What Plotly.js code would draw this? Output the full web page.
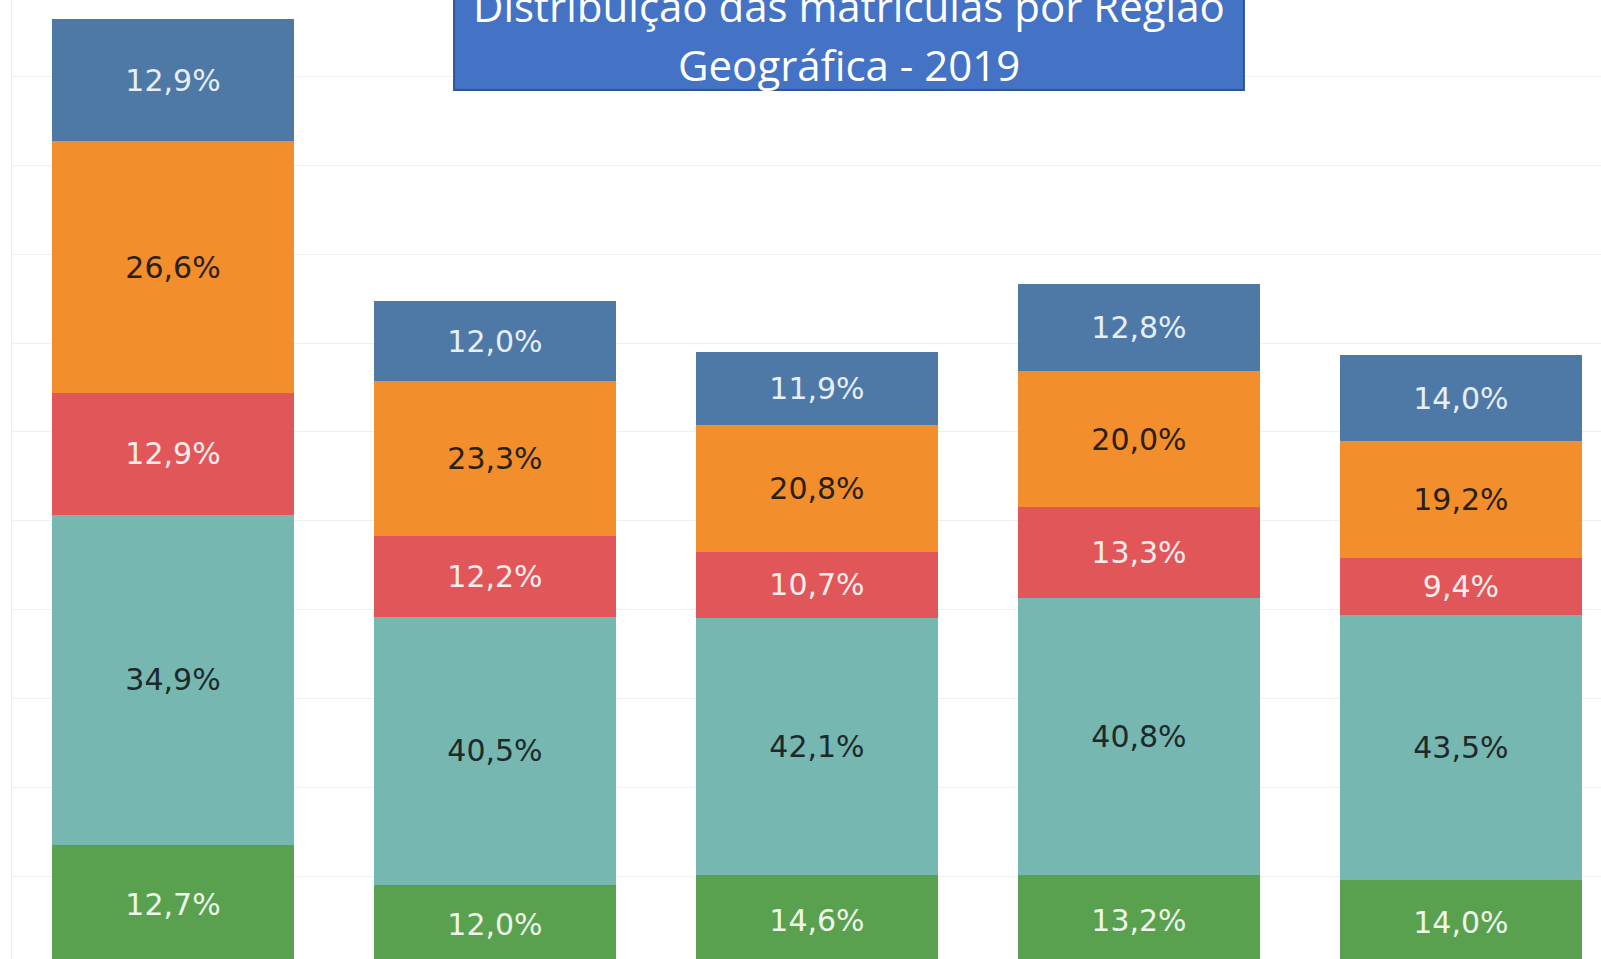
<!DOCTYPE html>
<html>
<head>
<meta charset="utf-8">
<script src="https://cdn.plot.ly/plotly-3.0.1.min.js"></script>
<style>
  html, body { margin: 0; padding: 0; background: #ffffff; overflow: hidden; }
  #chart { width: 1601px; height: 959px; }
</style>
</head>
<body>
<div id="chart"></div>
<script>
// Categories (column labels are cut off in the reference)
const categories = ['Coluna 1', 'Coluna 2', 'Coluna 3', 'Coluna 4', 'Coluna 5'];

// Series values (stacked bottom to top), in gridline units
const sulValues         = [1.35, 0.90, 1.01, 1.01, 0.96];
const sudesteValues     = [3.72, 3.02, 2.90, 3.12, 2.98];
const norteValues       = [1.37, 0.91, 0.74, 1.02, 0.64];
const nordesteValues    = [2.83, 1.74, 1.43, 1.53, 1.32];
const centroOesteValues = [1.38, 0.90, 0.82, 0.98, 0.96];

// Segment labels (share of each column)
const sulLabels         = ['12,7%', '12,0%', '14,6%', '13,2%', '14,0%'];
const sudesteLabels     = ['34,9%', '40,5%', '42,1%', '40,8%', '43,5%'];
const norteLabels       = ['12,9%', '12,2%', '10,7%', '13,3%', '9,4%'];
const nordesteLabels    = ['26,6%', '23,3%', '20,8%', '20,0%', '19,2%'];
const centroOesteLabels = ['12,9%', '12,0%', '11,9%', '12,8%', '14,0%'];

const titleLine1 = 'Distribuição das matrículas por Região';
const titleLine2 = 'Geográfica - 2019';

const labelFont = 'DejaVu Sans, sans-serif';
const labelSize = 30;

function seg(name, values, labels, color, textColor) {
  return {
    type: 'bar',
    name: name,
    x: categories,
    y: values,
    text: labels,
    textposition: 'inside',
    insidetextanchor: 'middle',
    textangle: 0,
    constraintext: 'none',
    insidetextfont: { family: labelFont, size: labelSize, color: textColor },
    marker: { color: color, line: { width: 0 } },
    hoverinfo: 'skip'
  };
}

const data = [
  seg('Sul', sulValues, sulLabels, '#59a14f', '#eef5ea'),
  seg('Sudeste', sudesteValues, sudesteLabels, '#76b7b2', '#1e2a2a'),
  seg('Norte', norteValues, norteLabels, '#e15759', '#fbecec'),
  seg('Nordeste', nordesteValues, nordesteLabels, '#f28e2b', '#2a2010'),
  seg('Centro-Oeste', centroOesteValues, centroOesteLabels, '#4e79a7', '#e6eef7')
];

const layout = {
  width: 1601,
  height: 959,
  margin: { l: 12, r: 0, t: 0, b: 0, pad: 0 },
  paper_bgcolor: '#ffffff',
  plot_bgcolor: '#ffffff',
  barmode: 'stack',
  bargap: 0.25,
  showlegend: false,
  xaxis: {
    type: 'category',
    range: [-0.5, 4.435],
    showticklabels: false,
    showgrid: false,
    zeroline: false,
    showline: false,
    ticks: ''
  },
  yaxis: {
    range: [0.066, 10.862],
    dtick: 1,
    tick0: 0,
    showticklabels: false,
    showgrid: true,
    gridcolor: '#efefef',
    gridwidth: 1,
    zeroline: false,
    showline: true,
    linecolor: '#eeeeee',
    linewidth: 1,
    ticks: ''
  },
  shapes: [
    {
      type: 'rect', xref: 'paper', yref: 'paper',
      x0: 0.2782, x1: 0.7753, y0: 0.9062, y1: 1.05,
      fillcolor: '#4472c4',
      line: { color: '#2f5597', width: 2 },
      layer: 'above'
    }
  ],
  annotations: [
    {
      text: titleLine1, xref: 'paper', yref: 'paper',
      x: 0.5267, y: 1 - 36 / 959, xanchor: 'center', yanchor: 'bottom',
      showarrow: false,
      font: { family: 'Open Sans, sans-serif', size: 42, color: '#ffffff' }
    },
    {
      text: titleLine2, xref: 'paper', yref: 'paper',
      x: 0.5267, y: 1 - 95 / 959, xanchor: 'center', yanchor: 'bottom',
      showarrow: false,
      font: { family: 'Open Sans, sans-serif', size: 42, color: '#ffffff' }
    }
  ]
};

Plotly.newPlot('chart', data, layout, { displayModeBar: false, staticPlot: true });
</script>
</body>
</html>
